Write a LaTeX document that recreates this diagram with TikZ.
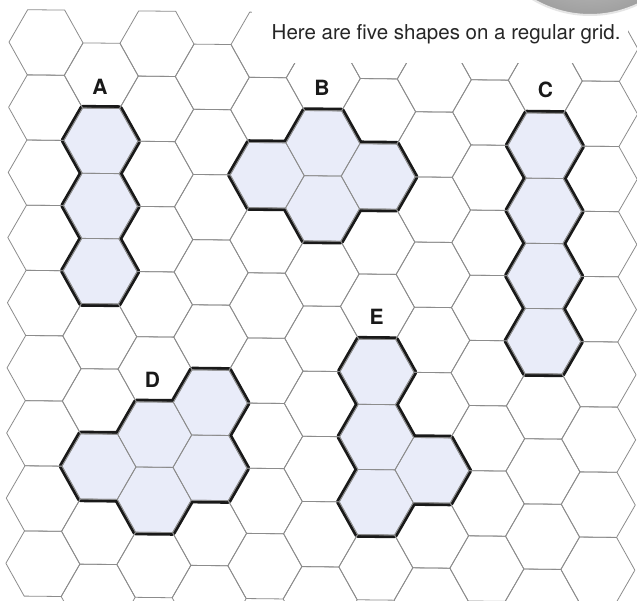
\documentclass[tikz,border=0pt]{standalone}
\usepackage{fontspec}
\setmainfont{TeX Gyre Heros}
\definecolor{cellfill}{RGB}{233,236,249}
\definecolor{gridgrey}{RGB}{140,140,140}
\newcommand{\hexcell}{(37,0) -- (18.5,32.6) -- (-18.5,32.6) -- (-37,0) -- (-18.5,-32.6) -- (18.5,-32.6) -- cycle}
\newcommand{\cellat}[2]{({55.5*#1},{65.15*#2+32.6*mod(#1,2)})}
% cells of the shapes A, B, C, D, E as column/row
\newcommand{\shapecells}{1/1,1/2,1/3, 4/2,5/1,5/2,6/2, 9/1,9/2,9/3,9/4,
  1/6,2/6,2/7,3/5,3/6, 6/5,6/6,6/7,7/6}

\begin{document}
\begin{tikzpicture}[x=1pt,y=-1pt,
    gridline/.style={draw=gridgrey,line width=0.8pt,line join=round},
    rim/.style={draw=black!90,line width=6.4pt,line join=round},
    cell/.style={fill=cellfill},
    lbl/.style={font=\fontsize{21}{21}\selectfont\bfseries,text=black!90}]
  \useasboundingbox (0,0) rectangle (637,601);
  \clip (0,0) rectangle (637,601);
  \fill[white] (0,0) rectangle (637,601);
  \begin{scope}[shift={(46,42.5)},x={(1pt,-0.011pt)},y={(-0.006pt,-1pt)}]
    \foreach \c/\r in \shapecells
      \path[rim,shift={\cellat{\c}{\r}}] \hexcell;
    \foreach \c/\r in \shapecells
      \path[cell,shift={\cellat{\c}{\r}}] \hexcell;
    % the grid
    \foreach \c in {0,...,10}
      \foreach \r in {0,...,8}
        \path[gridline,shift={\cellat{\c}{\r}}] \hexcell;
  \end{scope}
  % caption box and button
  \fill[white] (252,0) rectangle (628,63);
  \shade[inner color=gray!15,outer color=gray!75] (590,-97) circle[radius=112pt];
  \draw[gray!20,line width=2pt] (590,-97) circle[radius=112pt];
  \node[anchor=base west,text=black!85,inner sep=0pt,
    font=\fontsize{20.5}{24}\selectfont] (caption) at (271.5,40)
    {Here are five shapes on a regular grid.};
  \node[lbl] (labA) at (100,87) {A};
  \node[lbl] (labB) at (322,88) {B};
  \node[lbl] (labC) at (545.5,90) {C};
  \node[lbl] (labD) at (152.5,379.5) {D};
  \node[lbl] (labE) at (376.5,316.5) {E};
\end{tikzpicture}
\end{document}
